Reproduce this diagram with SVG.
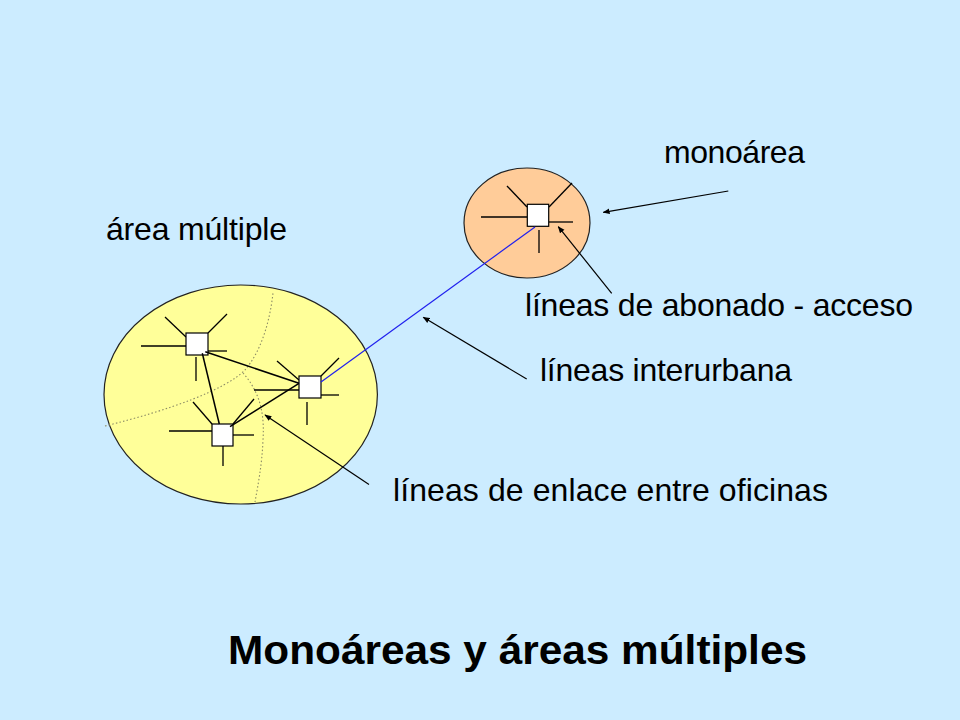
<svg xmlns="http://www.w3.org/2000/svg" width="960" height="720" viewBox="0 0 960 720">
<defs>
<style>
.lbl{font-family:"Liberation Sans",Arial,sans-serif;font-size:32px;fill:#000}
.title{font-family:"Liberation Sans",Arial,sans-serif;font-size:41px;font-weight:bold;fill:#000}
.sp{stroke:#000;stroke-width:1.3;fill:none}
.lnk{stroke:#000;stroke-width:1.5;fill:none}
.box{fill:#fff;stroke:#000;stroke-width:1.2}
.dot{stroke:#8c8c66;stroke-width:1.1;stroke-dasharray:1.5 2.2;fill:none}
.arr{stroke:#000;stroke-width:1.2;fill:none;marker-end:url(#ah)}
</style>
<marker id="ah" viewBox="0 0 10 10" refX="9" refY="5" markerWidth="7" markerHeight="7" markerUnits="userSpaceOnUse" orient="auto">
<path d="M0,1 L10,5 L0,9 Z" fill="#000"/>
</marker>
</defs>
<rect width="960" height="720" fill="#CCECFF"/>

<g id="area-multiple">
<ellipse cx="240.7" cy="394.5" rx="136.7" ry="109.5" fill="#FFFF99" stroke="#222" stroke-width="1.2"/>
<path class="dot" d="M105,426 C170,410 225,390 245,370 C262,350 270,320 273,293"/>
<path class="dot" d="M243,373 C258,390 265,410 263,440 C262,465 258,485 255,502"/>
</g>

<g id="office1">
<line class="sp" x1="141" y1="346" x2="186" y2="346"/>
<line class="sp" x1="208" y1="351" x2="227" y2="351"/>
<line class="sp" x1="196" y1="357" x2="196" y2="381"/>
<line class="sp" x1="165" y1="317" x2="186" y2="337"/>
<line class="sp" x1="227" y1="314" x2="208" y2="333"/>
<rect class="box" x="186" y="333" width="22" height="22"/>
</g>

<g id="office2">
<line class="sp" x1="254" y1="390" x2="299" y2="390"/>
<line class="sp" x1="321" y1="395" x2="339" y2="395"/>
<line class="sp" x1="307" y1="402" x2="307" y2="425"/>
<line class="sp" x1="277" y1="361" x2="299" y2="380"/>
<line class="sp" x1="339" y1="358" x2="321" y2="376"/>
<rect class="box" x="299" y="376" width="22" height="22"/>
</g>

<g id="office3">
<line class="sp" x1="169" y1="431" x2="212" y2="431"/>
<line class="sp" x1="233" y1="435" x2="254" y2="435"/>
<line class="sp" x1="223" y1="446" x2="223" y2="466"/>
<line class="sp" x1="193" y1="402" x2="212" y2="424"/>
<line class="sp" x1="254" y1="399" x2="233" y2="424"/>
<rect class="box" x="212" y="424" width="21" height="22"/>
</g>

<g id="monoarea">
<ellipse cx="527" cy="223" rx="63" ry="55" fill="#FFCC99" stroke="#222" stroke-width="1.2"/>
<line class="sp" x1="481" y1="217" x2="527" y2="217"/>
<line class="sp" x1="549" y1="222" x2="573" y2="222"/>
<line class="sp" x1="539" y1="230" x2="539" y2="253"/>
<line class="sp" x1="507" y1="186" x2="527" y2="207"/>
<line class="sp" x1="572" y1="183" x2="549" y2="207"/>
<rect class="box" x="527.3" y="204.3" width="21.4" height="22"/>
</g>

<g id="connectors">
<line class="lnk" x1="205.3" y1="351.7" x2="299" y2="383.3"/>
<line class="lnk" x1="202.3" y1="353.3" x2="219.3" y2="424"/>
<line class="lnk" x1="230" y1="426.7" x2="299" y2="383.3"/>
<line x1="321" y1="382" x2="535" y2="227" stroke="#2020ee" stroke-width="1.2"/>
<line class="arr" x1="728.3" y1="191" x2="603.3" y2="212.3"/>
<line class="arr" x1="611.7" y1="293.3" x2="558.3" y2="226.7"/>
<line class="arr" x1="526.7" y1="379" x2="423.3" y2="317.3"/>
<line class="arr" x1="369" y1="484.5" x2="265" y2="415"/>
</g>

<g id="labels">
<text class="lbl" x="664" y="163" textLength="141" lengthAdjust="spacing">monoárea</text>
<text class="lbl" x="106" y="240" textLength="181" lengthAdjust="spacing">área múltiple</text>
<text class="lbl" x="525" y="316" textLength="388" lengthAdjust="spacing">líneas de abonado - acceso</text>
<text class="lbl" x="540" y="381" textLength="252" lengthAdjust="spacing">líneas interurbana</text>
<text class="lbl" x="393" y="501" textLength="435" lengthAdjust="spacing">líneas de enlace entre oficinas</text>
<text class="title" x="228" y="664" textLength="579" lengthAdjust="spacingAndGlyphs">Monoáreas y áreas múltiples</text>
</g>
</svg>
